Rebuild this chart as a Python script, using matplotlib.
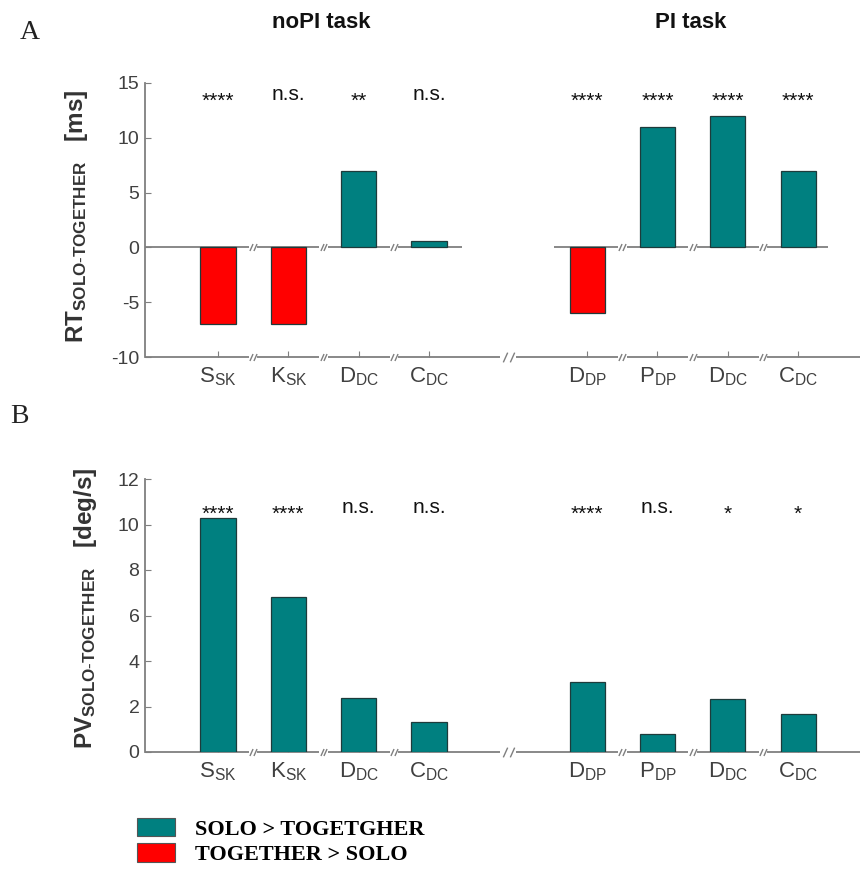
import matplotlib
matplotlib.use("Agg")
import matplotlib.pyplot as plt
from matplotlib.patches import Patch

plt.rcParams['font.family'] = ['Liberation Sans', 'DejaVu Sans']
plt.rcParams['mathtext.fontset'] = 'custom'
plt.rcParams['mathtext.rm'] = 'Liberation Sans'
plt.rcParams['mathtext.it'] = 'Liberation Sans'
plt.rcParams['mathtext.bf'] = 'Liberation Sans:bold'
plt.rcParams['axes.unicode_minus'] = False

# ---------------- data ----------------
nopi_labels = [r"$\mathregular{S_{SK}}$", r"$\mathregular{K_{SK}}$", r"$\mathregular{D_{DC}}$", r"$\mathregular{C_{DC}}$"]
pi_labels = [r"$\mathregular{D_{DP}}$", r"$\mathregular{P_{DP}}$", r"$\mathregular{D_{DC}}$", r"$\mathregular{C_{DC}}$"]
rt_nopi = [-7.0, -7.0, 7.0, 0.55]
rt_pi = [-6.0, 11.0, 12.0, 7.0]
pv_nopi = [10.28, 6.83, 2.38, 1.32]
pv_pi = [3.06, 0.77, 2.32, 1.69]
rt_sig_nopi = ["****", "n.s.", "**", "n.s."]
rt_sig_pi = ["****", "****", "****", "****"]
pv_sig_nopi = ["****", "****", "n.s.", "n.s."]
pv_sig_pi = ["****", "n.s.", "*", "*"]

TEAL = "#008080"
RED = "#ff0000"
GRAY = "#7f7f7f"
TXT = "#404040"

W, H = 860, 869
fig = plt.figure(figsize=(W / 100, H / 100), dpi=100)

pos_l = [1, 2, 3, 4]
pos_r = [6.25, 7.25, 8.25, 9.25]
xl = (-0.038, 10.13)
small_breaks = [1.5, 2.5, 3.5, 6.75, 7.75, 8.75]
big_break = 5.125
slash = [(-0.45, -1), (0.45, 1)]


def draw_line(ax, y, x0, x1, breaks, gap):
    pts = [x0]
    for b in sorted(breaks):
        if x0 < b < x1:
            pts += [b - gap[b], b + gap[b]]
    pts.append(x1)
    for i in range(0, len(pts), 2):
        ax.plot([pts[i], pts[i + 1]], [y, y], color=GRAY, lw=1.3,
                clip_on=False, solid_capstyle='butt', zorder=1)
    for b in breaks:
        if x0 < b < x1:
            ax.plot([b - gap[b] * 0.45, b + gap[b] * 0.45], [y, y], ls='none',
                    marker=slash, ms=7 if gap[b] > 0.08 else 5, mec=GRAY, mew=1.0,
                    clip_on=False, zorder=3)


def panel(rect, vals_l, vals_r, sig_l, sig_r, ylim, yticks, ns_y, st_y, ylabel, ylab_xy, zero_segments):
    ax = fig.add_axes(rect)
    ax.set_xlim(*xl)
    ax.set_ylim(*ylim)
    for s in ['top', 'right', 'bottom']:
        ax.spines[s].set_visible(False)
    ax.spines['left'].set_color(GRAY)
    ax.spines['left'].set_linewidth(1.3)
    ax.set_yticks(yticks)
    ax.tick_params(axis='y', direction='in', length=4, color=GRAY, labelsize=14,
                   labelcolor=TXT, pad=4)
    ax.set_xticks(pos_l + pos_r)
    ax.set_xticklabels(nopi_labels + pi_labels)
    ax.tick_params(axis='x', direction='in', length=4, color=GRAY, labelsize=16,
                   labelcolor=TXT, pad=6)
    for p, v in zip(pos_l + pos_r, vals_l + vals_r):
        ax.bar(p, v, width=0.5, color=TEAL if v > 0 else RED,
               edgecolor="#1e3b3b", linewidth=0.9, zorder=2)
    for p, s in zip(pos_l + pos_r, sig_l + sig_r):
        y = ns_y if s == "n.s." else st_y
        ax.text(p, y, s, ha='center', va='baseline', fontsize=15, color='#111111')
    gap = {b: 0.06 for b in small_breaks}
    gap[big_break] = 0.11
    # bottom axis
    draw_line(ax, ylim[0], xl[0], xl[1], small_breaks + [big_break], gap)
    # zero line
    if zero_segments:
        for (a, b) in zero_segments:
            draw_line(ax, 0, a, b, small_breaks, gap)
    fig.text(ylab_xy[0] / W, 1 - ylab_xy[1] / H, ylabel, rotation=90,
             ha='center', va='center', fontsize=17.5, color='#333333')
    return ax


panel([145 / W, 1 - 357 / H, (W - 145) / W, 274 / H], rt_nopi, rt_pi, rt_sig_nopi, rt_sig_pi,
      (-10, 15), [-10, -5, 0, 5, 10, 15], 13.45, 12.8,
      r"$\mathbf{RT_{SOLO\text{-}TOGETHER}}\ \ \ \mathbf{[ms]}$", (77, 216),
      [(xl[0], 4.47), (5.78, 9.68)])

panel([145 / W, 1 - 752 / H, (W - 145) / W, 273 / H], pv_nopi, pv_pi, pv_sig_nopi, pv_sig_pi,
      (0, 12), [0, 2, 4, 6, 8, 10, 12], 10.5, 10.2,
      r"$\mathbf{PV_{SOLO\text{-}TOGETHER}}\ \ \ \mathbf{[deg/s]}$", (86, 608),
      None)

# titles
fig.text(321 / W, 1 - 23 / H, "noPI task", ha='center', va='center', fontsize=16,
         fontweight='bold', color='#111111')
fig.text(691 / W, 1 - 23 / H, "PI task", ha='center', va='center', fontsize=16,
         fontweight='bold', color='#111111')

# panel letters
fig.text(20 / W, 1 - 39 / H, "A", ha='left', va='baseline', fontsize=20,
         family='Liberation Serif', color='#222222')
fig.text(10 / W, 1 - 423 / H, "B", ha='left', va='baseline', fontsize=20,
         family='Liberation Serif', color='#222222')

# legend
handles = [Patch(facecolor=TEAL, edgecolor='#555555', linewidth=0.8),
           Patch(facecolor=RED, edgecolor='#555555', linewidth=0.8)]
fig.legend(handles, ["SOLO > TOGETGHER", "TOGETHER > SOLO"], loc='upper left',
           bbox_to_anchor=(137 / W, 1 - 818 / H), frameon=False,
           prop={'family': 'Liberation Serif', 'weight': 'bold', 'size': 16},
           handlelength=1.7, handleheight=0.9, handletextpad=0.9, labelspacing=0.15,
           borderaxespad=0, borderpad=0)

fig.savefig("out.png", dpi=100)
